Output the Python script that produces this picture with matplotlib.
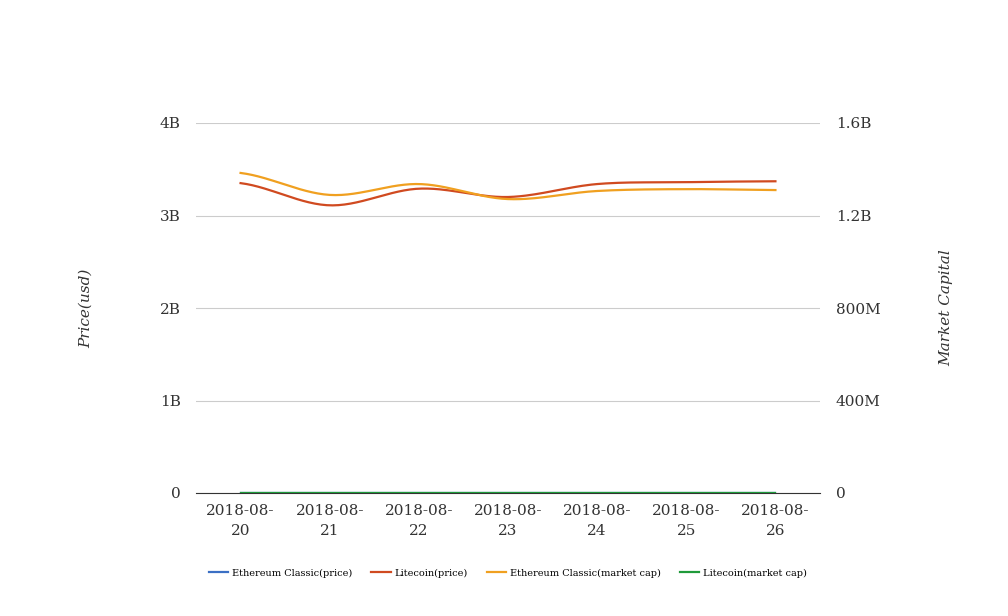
import numpy as np
import matplotlib
matplotlib.use("Agg")
import matplotlib.pyplot as plt

dates = ["2018-08-20", "2018-08-21", "2018-08-22", "2018-08-23", "2018-08-24", "2018-08-25", "2018-08-26"]
etc_price = [12.6, 12.1, 12.5, 12.3, 12.6, 12.7, 12.7]
ltc_price = [3.35e9, 3.11e9, 3.29e9, 3.20e9, 3.34e9, 3.36e9, 3.37e9]
etc_mcap = [1.384e9, 1.289e9, 1.336e9, 1.271e9, 1.306e9, 1.314e9, 1.310e9]
ltc_mcap = [57.5, 55.2, 57.0, 56.1, 57.8, 58.0, 58.2]

left_ticks = [0, 1e9, 2e9, 3e9, 4e9]
left_labels = ["0", "1B", "2B", "3B", "4B"]
right_ticks = [0, 4e8, 8e8, 1.2e9, 1.6e9]
right_labels = ["0", "400M", "800M", "1.2B", "1.6B"]

plt.rcParams['font.family'] = ['DejaVu Serif']

def smooth(x, y, n=30):
    x = np.asarray(x, float); y = np.asarray(y, float)
    xs, ys = [], []
    for i in range(len(x) - 1):
        p0 = y[i - 1] if i > 0 else y[i]
        p3 = y[i + 2] if i + 2 < len(y) else y[i + 1]
        p1, p2 = y[i], y[i + 1]
        t = np.linspace(0, 1, n, endpoint=False)
        c1 = p1 + (p2 - p0) / 6
        c2 = p2 - (p3 - p1) / 6
        yy = (1 - t) ** 3 * p1 + 3 * (1 - t) ** 2 * t * c1 + 3 * (1 - t) * t ** 2 * c2 + t ** 3 * p2
        xs.append(x[i] + t * (x[i + 1] - x[i])); ys.append(yy)
    xs.append([x[-1]]); ys.append([y[-1]])
    return np.concatenate(xs), np.concatenate(ys)

fig = plt.figure(figsize=(10.08, 6.16), dpi=100)
ax = fig.add_axes([196 / 1008, 1 - 493 / 616, 624 / 1008, 370 / 616])
ax2 = ax.twinx()

xi = np.arange(len(dates))
c_blue, c_red, c_orange, c_green = "#3b6fc4", "#d04a20", "#f0a020", "#1f9a3a"

l1, = ax.plot(*smooth(xi, etc_price), color=c_blue, lw=1.6, label="Ethereum Classic(price)")
l2, = ax.plot(*smooth(xi, ltc_price), color=c_red, lw=1.6, label="Litecoin(price)")
l3, = ax2.plot(*smooth(xi, etc_mcap), color=c_orange, lw=1.6, label="Ethereum Classic(market cap)")
l4, = ax2.plot(*smooth(xi, ltc_mcap), color=c_green, lw=1.6, label="Litecoin(market cap)")

ax.set_xlim(-0.5, len(dates) - 0.5)
ax.set_ylim(0, 4e9)
ax2.set_ylim(0, 1.6e9)
ax.set_yticks(left_ticks)
ax.set_yticklabels(left_labels)
ax2.set_yticks(right_ticks)
ax2.set_yticklabels(right_labels)
ax.set_xticks(xi)
ax.set_xticklabels([d[:8] + "\n" + d[8:] for d in dates])

ax.grid(axis='y', color="#cccccc", lw=0.8)
ax.set_axisbelow(True)
for a in (ax, ax2):
    for s in ["top", "right", "left"]:
        a.spines[s].set_visible(False)
    a.spines["bottom"].set_visible(a is ax)
    a.tick_params(length=0, labelsize=11, colors="#333333")
ax.spines["bottom"].set_color("#333333")
ax.tick_params(axis='y', pad=11)
ax2.tick_params(axis='y', pad=11.5)
ax.tick_params(axis='x', pad=8, labelsize=11)
for t in ax.get_xticklabels():
    t.set_linespacing(1.5)

ax.set_ylabel("Price(usd)", fontstyle="italic", fontsize=11, color="#333333", labelpad=48)
ax2.set_ylabel("Market Capital", fontstyle="italic", fontsize=11, color="#333333", labelpad=42)

fig.legend(handles=[l1, l2, l3, l4], loc="center", bbox_to_anchor=(508 / 1008, 1 - 573 / 616),
           ncol=4, frameon=False, fontsize=7, handlelength=2.0, columnspacing=1.95, handletextpad=0.4)

fig.savefig("out.png", dpi=100)
